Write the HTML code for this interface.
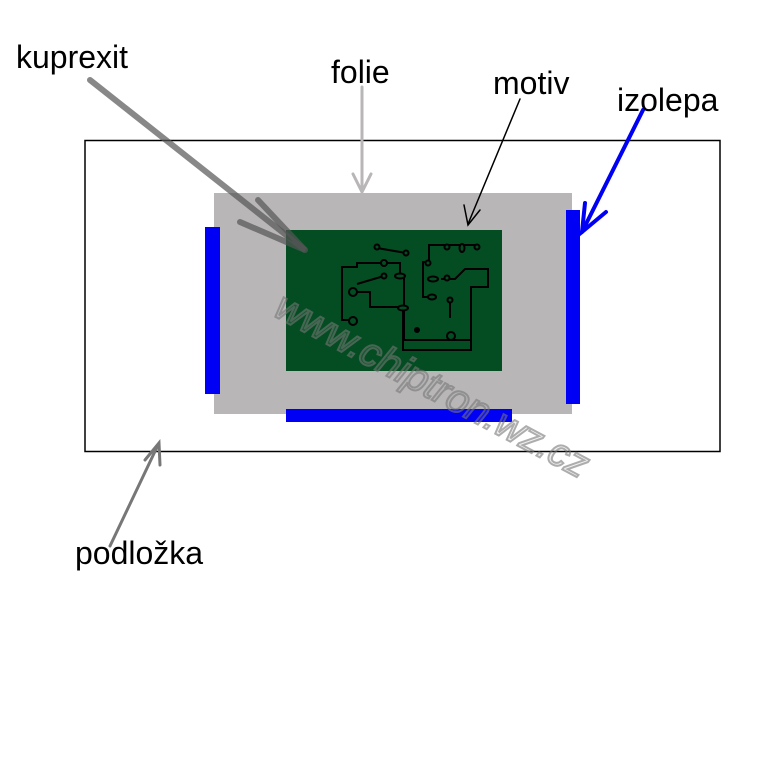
<!DOCTYPE html>
<html><head><meta charset="utf-8"><style>html,body{margin:0;padding:0;background:#fff;width:768px;height:768px;overflow:hidden}</style></head>
<body>
<svg width="768" height="768" viewBox="0 0 768 768" xmlns="http://www.w3.org/2000/svg" font-family="Liberation Sans, sans-serif">
<rect x="85" y="140.5" width="635" height="311" fill="none" stroke="#000" stroke-width="1.5"/>
<rect x="214" y="193" width="358" height="221" fill="#b8b6b7"/>
<rect x="286" y="230" width="216" height="141" fill="#044d22"/>
<rect x="205" y="227" width="15" height="167" fill="#0000f5"/>
<rect x="566" y="210" width="14" height="194" fill="#0000f5"/>
<rect x="286" y="409" width="226" height="13" fill="#0000f5"/>
<g fill="none" stroke="#000" stroke-width="2">
<polyline points="352,320 342,320 342,267 357,267 357,263 380,263 400,263 400,276"/>
<line x1="377" y1="248" x2="406" y2="253"/>
<line x1="357" y1="284" x2="384" y2="276"/>
<polyline points="353,292 370,292 370,307 400,307"/>
<polyline points="400,307 404,307 404,327 404,340 470,340"/>
<polyline points="404,327 404,277 396,277"/>
<polyline points="403,308 403,350 471,350 471,287 488,287 488,269 465,269 455,279 441,279"/>
<line x1="450" y1="318" x2="450" y2="300"/>
<polyline points="428,262 423,262 423,297 436,297"/>
<polyline points="429,262 429,245 447,245 477,245"/>
</g>
<g fill="#044d22" stroke="#000" stroke-width="2">
<circle cx="377" cy="247" r="2.5"/><circle cx="406" cy="253" r="2.5"/><circle cx="384" cy="263" r="3"/>
<circle cx="384" cy="276" r="2.5"/><ellipse cx="400" cy="276" rx="5" ry="2.5"/><circle cx="353" cy="292" r="4"/>
<circle cx="353" cy="321" r="4"/><ellipse cx="403" cy="308" rx="5" ry="2.5"/><circle cx="450" cy="300" r="2.5"/>
<circle cx="451" cy="336" r="4"/><circle cx="428" cy="263" r="2.5"/><ellipse cx="432" cy="297" rx="4" ry="2.5"/>
<ellipse cx="433" cy="279" rx="5" ry="2.5"/><circle cx="447" cy="278" r="2.5"/><circle cx="447" cy="247" r="2.5"/>
<ellipse cx="462" cy="248" rx="2.5" ry="4"/><circle cx="477" cy="247" r="2.5"/>
</g>
<circle cx="417" cy="330" r="3" fill="#000"/>
<text x="0" y="0" transform="translate(272,315) rotate(28)" font-size="40" font-style="italic" fill="#999" fill-opacity="0.25" stroke="#777" stroke-width="2" opacity="0.6">www.chiptron.wz.cz</text>
<g stroke-linecap="round" fill="none">
<line x1="90" y1="80" x2="305" y2="250" stroke="#555" stroke-width="6" opacity="0.7"/>
<polyline points="258,200 305,250 240,222" stroke="#555" stroke-width="6" opacity="0.7"/>
<line x1="362" y1="87" x2="362" y2="190" stroke="#b8b6b7" stroke-width="3"/>
<polyline points="353,174 362,192 371,174" stroke="#b8b6b7" stroke-width="3"/>
<line x1="520" y1="99" x2="468" y2="224" stroke="#000" stroke-width="1.5"/>
<polyline points="464,205 468,225 480,210" stroke="#000" stroke-width="1.5"/>
<line x1="643" y1="110" x2="582" y2="232" stroke="#0000f5" stroke-width="4"/>
<polyline points="585,203 582,232 606,212" stroke="#0000f5" stroke-width="4"/>
<line x1="110" y1="546" x2="158" y2="445" stroke="#777" stroke-width="3"/>
<polyline points="145,460 159,443 160,465" stroke="#777" stroke-width="3"/>
</g>
<g font-size="32" fill="#000">
<text x="16" y="68">kuprexit</text>
<text x="331" y="83">folie</text>
<text x="493" y="94">motiv</text>
<text x="617" y="111">izolepa</text>
<text x="75" y="564">podložka</text>
</g>
</svg>
</body></html>
